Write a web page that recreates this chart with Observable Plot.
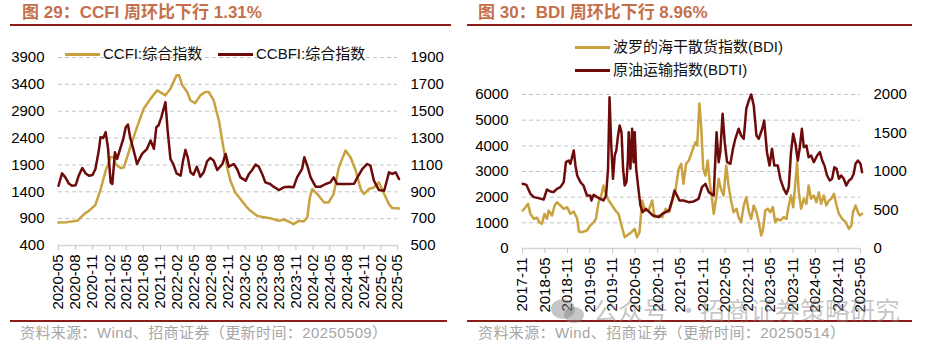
<!DOCTYPE html>
<html><head><meta charset="utf-8">
<script src="https://cdn.jsdelivr.net/npm/d3@7"></script>
<script src="https://cdn.jsdelivr.net/npm/@observablehq/plot@0.6"></script>
<style>
body{margin:0;background:#fff;}
#root{position:relative;width:931px;height:351px;overflow:hidden;background:#fff;font-family:"Liberation Sans",Arial,"Noto Sans CJK SC",sans-serif;}
.title{position:absolute;top:3px;line-height:20px;font-size:17px;font-weight:bold;color:#C5704A;white-space:nowrap;}
.rule{position:absolute;height:2px;background:#8C1C18;}
.src{position:absolute;top:324px;line-height:18px;font-size:15px;color:#a6a6a6;white-space:nowrap;letter-spacing:0.4px;}
.leg{position:absolute;font-size:15px;line-height:18px;color:#111;white-space:nowrap;display:flex;align-items:center;}
.leg i{display:inline-block;width:35px;height:3px;margin-right:3px;}
.pl{position:absolute;top:0;}
.wm{position:absolute;top:294px;font-size:25px;line-height:30px;color:rgba(128,128,128,0.45);font-family:"Noto Sans CJK SC",sans-serif;white-space:nowrap;}
</style></head>
<body>
<div id="root">
  <div class="title" style="left:22px">图 29：CCFI 周环比下行 1.31%</div>
  <div class="title" style="left:478px">图 30：BDI 周环比下行 8.96%</div>
  <div class="rule" style="left:10px;width:441px;top:24px"></div>
  <div class="rule" style="left:467px;width:445px;top:24px"></div>
  <div id="c1" class="pl" style="left:0"></div>
  <div id="c2" class="pl" style="left:465px"></div>
  <div class="leg" style="left:65px;top:45px"><i style="background:#C9A23F"></i>CCFI:综合指数</div>
  <div class="leg" style="left:218px;top:45px"><i style="background:#6D0B0B"></i>CCBFI:综合指数</div>
  <div class="leg" style="left:575px;top:38px"><i style="background:#C9A23F"></i>波罗的海干散货指数(BDI)</div>
  <div class="leg" style="left:575px;top:61px"><i style="background:#6D0B0B"></i>原油运输指数(BDTI)</div>
  <div class="rule" style="left:10px;width:437px;top:320px"></div>
  <div class="rule" style="left:467px;width:445px;top:320px"></div>
  <div class="src" style="left:20px">资料来源：Wind、招商证券（更新时间：20250509）</div>
  <div class="src" style="left:478px">资料来源：Wind、招商证券（更新时间：20250514）</div>
  <svg style="position:absolute;left:548px;top:298px" width="40" height="28">
    <ellipse cx="15" cy="11" rx="12" ry="10" fill="rgba(128,128,128,0.45)"/>
    <ellipse cx="26" cy="17" rx="10" ry="8" fill="rgba(128,128,128,0.45)"/>
  </svg>
  <div class="wm" style="left:593px">公众号</div>
  <div class="wm" style="left:676px">·</div>
  <div class="wm" style="left:700px">招商证券策略研究</div>
</div>
<script>
// ---------- Data: Figure 29 ----------
const ccfiTicks = [400, 900, 1400, 1900, 2400, 2900, 3400, 3900];
const ccbfiTicks = [500, 700, 900, 1100, 1300, 1500, 1700, 1900];
const xTicks1 = ["2020-05","2020-08","2020-11","2021-02","2021-05","2021-08","2021-11","2022-02","2022-05","2022-08","2022-11","2023-02","2023-05","2023-08","2023-11","2024-02","2024-05","2024-08","2024-11","2025-02","2025-05"];
const ccfi = [["2020-05-01",830],["2020-06-15",835],["2020-08-10",860],["2020-09-15",980],["2020-10-12",1046],["2020-11-15",1152],["2020-12-12",1420],["2021-01-10",1793],["2021-02-06",2042],["2021-02-22",2050],["2021-03-03",1919],["2021-04-01",1844],["2021-04-18",1850],["2021-05-22",2229],["2021-06-28",2603],["2021-08-03",2947],["2021-09-09",3134],["2021-10-15",3289],["2021-11-28",3195],["2021-12-25",3320],["2022-01-27",3569],["2022-02-09",3570],["2022-02-27",3382],["2022-03-25",3257],["2022-04-12",3100],["2022-05-07",3050],["2022-06-04",3195],["2022-07-01",3257],["2022-07-19",3260],["2022-08-15",3100],["2022-09-12",2728],["2022-10-09",2167],["2022-10-18",1980],["2022-11-04",1732],["2022-11-13",1607],["2022-12-09",1388],["2023-01-06",1264],["2023-02-03",1139],["2023-03-01",1046],["2023-04-06",952],["2023-05-03",933],["2023-06-15",909],["2023-08-01",859],["2023-08-27",884],["2023-09-24",846],["2023-10-19",797],["2023-11-16",859],["2023-12-13",846],["2024-01-01",921],["2024-01-15",1295],["2024-01-28",1451],["2024-02-24",1358],["2024-04-01",1201],["2024-04-25",1201],["2024-05-22",1358],["2024-06-19",1855],["2024-07-25",2167],["2024-08-21",2042],["2024-09-18",1793],["2024-10-15",1451],["2024-11-01",1358],["2024-11-28",1451],["2024-12-25",1481],["2025-01-21",1575],["2025-02-18",1358],["2025-03-16",1171],["2025-04-03",1096],["2025-05-09",1090]];
const ccbfi = [["2020-05-01",945],["2020-05-20",1037],["2020-06-07",1007],["2020-06-25",962],["2020-07-13",945],["2020-08-01",948],["2020-08-18",1020],["2020-09-06",1077],["2020-09-24",1037],["2020-10-12",1020],["2020-10-31",1025],["2020-11-16",1070],["2020-12-04",1207],["2020-12-13",1306],["2020-12-28",1300],["2021-01-10",1344],["2021-01-22",1232],["2021-02-06",970],["2021-02-15",958],["2021-03-01",1194],["2021-03-13",1145],["2021-04-01",1232],["2021-04-15",1294],["2021-04-28",1381],["2021-05-10",1401],["2021-05-22",1306],["2021-06-10",1207],["2021-06-28",1107],["2021-07-25",1182],["2021-08-21",1220],["2021-09-09",1282],["2021-09-27",1220],["2021-10-10",1381],["2021-10-22",1395],["2021-11-06",1456],["2021-11-28",1568],["2021-12-10",1356],["2021-12-25",1145],["2022-01-09",1107],["2022-01-27",1037],["2022-02-18",1020],["2022-03-03",1132],["2022-03-16",1212],["2022-03-28",1157],["2022-04-12",1045],["2022-04-28",1027],["2022-05-16",1087],["2022-06-04",1012],["2022-06-22",1045],["2022-07-10",1127],["2022-07-28",1152],["2022-08-15",1132],["2022-09-03",1062],["2022-10-01",1107],["2022-10-18",1182],["2022-11-04",1087],["2022-12-01",1107],["2022-12-19",1070],["2023-01-06",1007],["2023-02-03",983],["2023-02-21",1033],["2023-03-10",1062],["2023-03-28",1102],["2023-04-15",1087],["2023-05-03",1033],["2023-05-20",970],["2023-06-15",958],["2023-07-03",938],["2023-08-01",913],["2023-08-27",933],["2023-09-24",938],["2023-10-19",933],["2023-11-07",1007],["2023-12-04",1070],["2023-12-16",1157],["2024-01-01",1095],["2024-01-19",1007],["2024-02-15",938],["2024-03-13",938],["2024-04-09",958],["2024-05-04",970],["2024-05-22",1007],["2024-06-10",958],["2024-08-04",958],["2024-09-09",960],["2024-09-27",1007],["2024-10-24",1070],["2024-11-19",1107],["2024-12-06",1095],["2024-12-25",983],["2025-01-21",913],["2025-02-18",908],["2025-03-07",995],["2025-03-16",1045],["2025-04-03",1033],["2025-04-21",1045],["2025-05-09",995]];

// ---------- Data: Figure 30 ----------
const bdiTicks = [0, 1000, 2000, 3000, 4000, 5000, 6000];
const bdtiTicks = [0, 500, 1000, 1500, 2000];
const xTicks2 = ["2017-11","2018-05","2018-11","2019-05","2019-11","2020-05","2020-11","2021-05","2021-11","2022-05","2022-11","2023-05","2023-11","2024-05","2024-11","2025-05"];
const bdi = [["2017-11-03",1480],["2017-11-25",1610],["2017-12-16",1740],["2018-01-04",1350],["2018-02-01",1157],["2018-02-28",1200],["2018-03-16",1025],["2018-04-07",962],["2018-04-28",1350],["2018-05-18",1157],["2018-06-01",1480],["2018-06-28",1286],["2018-07-19",1675],["2018-08-07",1804],["2018-09-04",1675],["2018-10-01",1547],["2018-10-28",1610],["2018-11-24",1350],["2018-12-21",1441],["2019-01-18",1157],["2019-02-01",662],["2019-02-27",636],["2019-04-07",701],["2019-05-04",896],["2019-06-01",1025],["2019-06-19",1157],["2019-07-10",1804],["2019-08-01",2065],["2019-08-19",2454],["2019-09-09",2065],["2019-10-01",1870],["2019-10-28",1675],["2019-11-24",1480],["2019-12-19",1350],["2020-01-12",896],["2020-02-07",440],["2020-03-04",533],["2020-04-01",636],["2020-04-28",766],["2020-05-16",440],["2020-06-06",636],["2020-06-27",1870],["2020-07-22",1480],["2020-08-19",1480],["2020-09-16",1870],["2020-10-07",1220],["2020-11-09",1286],["2020-12-07",1220],["2021-01-04",1547],["2021-02-01",1415],["2021-02-28",1870],["2021-03-22",2194],["2021-04-19",3105],["2021-05-10",3300],["2021-05-28",2521],["2021-06-18",3300],["2021-07-10",3428],["2021-08-13",3884],["2021-09-03",4142],["2021-09-16",4014],["2021-10-04",5650],["2021-10-18",4792],["2021-11-04",3105],["2021-11-22",2844],["2021-12-10",3428],["2021-12-27",2583],["2022-01-16",1870],["2022-01-28",1350],["2022-02-20",2065],["2022-03-09",2715],["2022-03-27",2326],["2022-04-18",2065],["2022-05-09",3234],["2022-05-28",2454],["2022-06-17",1870],["2022-07-08",1415],["2022-08-01",1547],["2022-08-18",1220],["2022-09-07",1025],["2022-09-28",1675],["2022-10-19",2000],["2022-11-09",1415],["2022-11-28",1157],["2022-12-18",1675],["2023-01-09",1415],["2023-01-28",1025],["2023-02-17",507],["2023-03-04",766],["2023-03-22",1480],["2023-04-10",1547],["2023-05-01",1415],["2023-05-22",1610],["2023-06-10",1025],["2023-06-28",1157],["2023-07-21",1091],["2023-08-18",1220],["2023-09-09",1157],["2023-09-28",1675],["2023-10-16",2065],["2023-11-03",1610],["2023-11-21",2583],["2023-12-04",3362],["2023-12-18",2194],["2024-01-06",1547],["2024-01-28",1935],["2024-02-18",1740],["2024-03-07",2454],["2024-03-27",1935],["2024-04-18",2065],["2024-05-09",1804],["2024-05-28",2194],["2024-06-16",1740],["2024-07-07",2065],["2024-07-28",1675],["2024-08-18",1870],["2024-09-06",1935],["2024-09-28",2130],["2024-10-19",1675],["2024-11-07",1350],["2024-12-04",1157],["2025-01-01",1025],["2025-01-28",766],["2025-02-16",896],["2025-03-01",1415],["2025-03-22",1675],["2025-04-10",1415],["2025-04-25",1286],["2025-05-14",1350]];
const bdti = [["2017-11-03",840],["2017-12-03",826],["2018-01-04",710],["2018-02-01",667],["2018-03-10",654],["2018-04-21",636],["2018-05-18",766],["2018-06-15",740],["2018-07-10",732],["2018-08-07",775],["2018-09-04",797],["2018-10-01",862],["2018-10-19",1121],["2018-11-10",1143],["2018-11-24",1100],["2018-12-21",1273],["2019-01-04",1078],["2019-01-18",948],["2019-02-13",862],["2019-03-10",818],["2019-04-07",688],["2019-05-04",688],["2019-05-13",624],["2019-06-01",697],["2019-06-28",667],["2019-07-25",645],["2019-08-19",624],["2019-09-09",688],["2019-09-25",1035],["2019-10-07",1965],["2019-10-21",1338],["2019-11-04",905],["2019-11-18",1208],["2019-12-01",1273],["2019-12-15",1468],["2019-12-28",1598],["2020-01-12",1511],["2020-01-25",1035],["2020-02-07",818],["2020-02-21",862],["2020-03-04",1165],["2020-03-10",1511],["2020-03-24",1035],["2020-04-07",1555],["2020-04-19",1121],["2020-04-28",1511],["2020-05-10",1035],["2020-05-25",818],["2020-06-13",559],["2020-07-01",472],["2020-07-28",515],["2020-08-25",472],["2020-09-21",429],["2020-10-13",420],["2020-11-09",407],["2020-12-07",450],["2021-01-04",472],["2021-02-01",494],["2021-02-28",645],["2021-03-16",753],["2021-04-06",688],["2021-04-25",624],["2021-05-28",624],["2021-07-10",602],["2021-08-19",611],["2021-09-27",645],["2021-10-25",797],["2021-11-22",840],["2021-12-19",732],["2022-01-28",688],["2022-02-20",1511],["2022-03-09",1121],["2022-03-22",1251],["2022-04-10",1749],["2022-04-27",1381],["2022-05-16",1121],["2022-06-12",1100],["2022-07-03",1295],["2022-07-22",1425],["2022-08-18",1555],["2022-09-07",1468],["2022-09-28",1425],["2022-10-19",1815],["2022-11-09",1923],["2022-11-28",2000],["2022-12-18",1858],["2023-01-09",1468],["2023-01-28",1425],["2023-02-25",1555],["2023-03-13",1663],["2023-04-04",1251],["2023-04-25",1078],["2023-05-15",1295],["2023-06-03",1078],["2023-07-01",1078],["2023-07-21",905],["2023-08-18",775],["2023-09-09",710],["2023-09-28",797],["2023-10-16",1251],["2023-11-03",1490],["2023-11-21",1360],["2023-12-10",1143],["2023-12-25",1295],["2024-01-12",1555],["2024-01-28",1316],["2024-02-18",1338],["2024-03-07",1186],["2024-03-27",1208],["2024-04-18",1121],["2024-05-15",1208],["2024-06-06",1251],["2024-06-25",1143],["2024-07-13",1078],["2024-08-03",948],["2024-08-25",883],["2024-09-13",905],["2024-10-01",1056],["2024-10-19",1035],["2024-11-07",905],["2024-11-25",948],["2024-12-16",905],["2025-01-06",818],["2025-01-28",883],["2025-02-16",905],["2025-03-07",970],["2025-03-22",1100],["2025-04-10",1143],["2025-05-01",1100],["2025-05-14",991]];

// ---------- Drawing ----------
const GOLD = "#C9A23F", RED = "#6D0B0B";
const parseD = d3.utcParse("%Y-%m-%d");
const parseM = d3.utcParse("%Y-%m");
const fmtM = d3.utcFormat("%Y-%m");
const style = {fontFamily: "'Liberation Sans', Arial, sans-serif", fontSize: "15px", color: "#000", background: "transparent", overflow: "visible"};

function dualChart({width, height, mL, mR, mT, mB, xTicks, yTicks, y2Ticks, s1, s2}) {
  const [l0, l1] = [yTicks[0], yTicks[yTicks.length - 1]];
  const [r0, r1] = [y2Ticks[0], y2Ticks[y2Ticks.length - 1]];
  const toL = r => l0 + (r - r0) * (l1 - l0) / (r1 - r0);
  const fromL = l => r0 + (l - l0) * (r1 - r0) / (l1 - l0);
  return Plot.plot({
    width, height, marginLeft: mL, marginRight: mR, marginTop: mT, marginBottom: mB,
    style,
    x: {type: "utc", domain: [parseM(xTicks[0]), parseM(xTicks[xTicks.length - 1])]},
    y: {domain: [l0, l1]},
    marks: [
      Plot.gridY(yTicks.slice(1), {stroke: "#c4c4c4", strokeOpacity: 1, strokeDasharray: "4,3"}),
      Plot.ruleY([l0], {stroke: "#d4d4d4", strokeWidth: 1.5}),
      Plot.axisX(xTicks.map(parseM), {tickFormat: fmtM, tickRotate: -90, tickSize: 5, tickPadding: 4, stroke: "#c4c4c4", fill: "#000", fontSize: 15, label: null}),
      Plot.axisY(yTicks, {anchor: "left", tickSize: 0, tickPadding: 14, tickFormat: d3.format("d"), fill: "#000", fontSize: 15, label: null}),
      Plot.axisY(y2Ticks.map(toL), {anchor: "right", tickSize: 0, tickPadding: 13, tickFormat: d => String(Math.round(fromL(d))), fill: "#000", fontSize: 15, label: null}),
      Plot.line(s1, {x: d => parseD(d[0]), y: d => d[1], stroke: GOLD, strokeWidth: 2.5}),
      Plot.line(s2, {x: d => parseD(d[0]), y: d => toL(d[1]), stroke: RED, strokeWidth: 2.5})
    ]
  });
}

document.getElementById("c1").append(dualChart({
  width: 465, height: 318, mL: 58, mR: 68, mT: 57, mB: 73,
  xTicks: xTicks1, yTicks: ccfiTicks, y2Ticks: ccbfiTicks, s1: ccfi, s2: ccbfi
}));
document.getElementById("c2").append(dualChart({
  width: 466, height: 320, mL: 57, mR: 71, mT: 94, mB: 72,
  xTicks: xTicks2, yTicks: bdiTicks, y2Ticks: bdtiTicks, s1: bdi, s2: bdti
}));
</script>
</body></html>
